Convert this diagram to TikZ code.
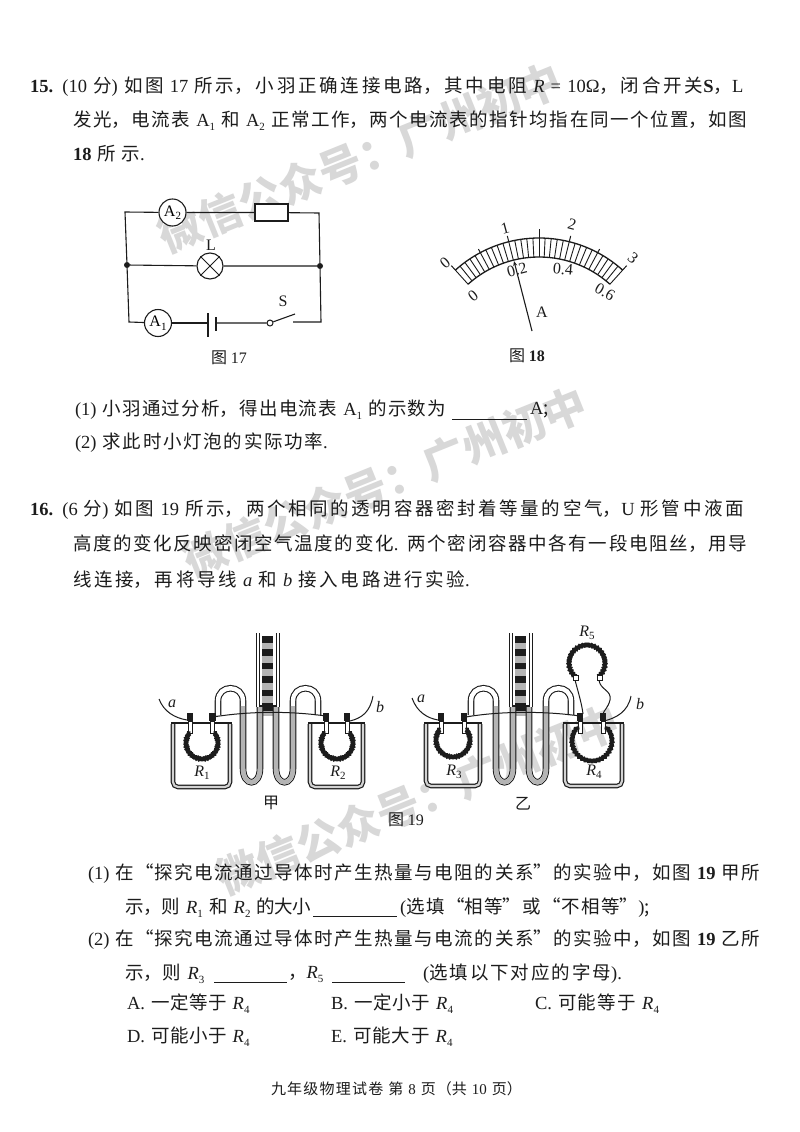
\documentclass[tikz,border=0pt]{standalone}
\usepackage{fontspec}
\usepackage{graphicx}
\usetikzlibrary{arrows.meta}
\setmainfont{Noto Sans CJK SC}
\newfontfamily\enf{Liberation Serif}
\newcommand\en[1]{{\enf #1}}
\newcommand\sbs[1]{\raisebox{-.4ex}{\fontsize{11}{11}\selectfont\enf #1}}
\newcommand\Ri[1]{{\enf\itshape R}\sbs{#1}}
\XeTeXlinebreaklocale "zh"
\XeTeXlinebreakskip=0pt plus 12pt minus 1pt
\tolerance=10000 \hbadness=10000 \hfuzz=50pt
\definecolor{ink}{HTML}{1c1c1c}
\definecolor{wm}{HTML}{d8d8d8}
\definecolor{liq}{HTML}{b4b4b4}
\tikzset{
  txt/.style={anchor=west,inner sep=0pt,outer sep=0pt,font=\fontsize{18.5}{22}\selectfont,text=ink},
  lab/.style={inner sep=0pt,outer sep=0pt,font=\fontsize{16}{18}\selectfont,text=ink},
  capt/.style={inner sep=0pt,outer sep=0pt,font=\fontsize{16}{18}\selectfont,text=ink},
  wmark/.style={inner sep=0pt,font=\fontsize{43}{48}\bfseries\selectfont,text=wm,rotate=22},
  wire/.style={draw=ink,line width=1.1pt},
  thinw/.style={draw=ink,line width=1pt},
  meter/.style={circle,draw=ink,line width=1.1pt,fill=white,minimum size=27pt,inner sep=0pt,font=\fontsize{16}{18}\selectfont},
  dotn/.style={circle,fill=ink,minimum size=6pt,inner sep=0pt},
  blank/.style={draw=ink,line width=.9pt},
  wall/.style={draw=ink,line width=1.2pt,double=liq!60,double distance=2.2pt,rounded corners=5pt},
  lid/.style={draw=ink,line width=2.8pt},
  tubeO/.style={draw=ink,line width=6.6pt},
  tubeI/.style={draw=white,line width=4.4pt},
  tubeL/.style={draw=liq,line width=4.4pt},
  term/.style={fill=ink},
  coil/.style={draw=ink,line width=3.2pt},
}
\newcommand\tline[5]{\node[txt,text width=#4pt] (#1) at (#2,#3) {\parfillskip=0pt #5\unskip\par};}
% container: left right top bottom
\newcommand\vessel[4]{%
  \draw[wall] (#1,#3+1) -- (#1,#4) -- (#2,#4) -- (#2,#3+1);
  \draw[lid] (#1-2,#3) -- (#2+2,#3);
}
% terminal + stem at x
\newcommand\postat[1]{%
  \draw[draw=ink,fill=white,line width=.6pt] (#1-1.8,721) rectangle (#1+1.8,733);
  \fill[term] (#1-3.2,713) rectangle (#1+3.2,721);
}
% ring: centre, radius, start, end
\newcommand\ring[5]{\draw[coil] plot[domain=#4:#5,samples=170] ({#1+(#3+1*sin(37*\x))*cos(\x)},{#2+(#3+1*sin(37*\x))*sin(\x)});}
% scale tube and U tubes, drawn for the first apparatus
\newcommand\utubes{%
  \draw[draw=ink,line width=1pt] (256,633) -- (256,707) (279,633) -- (279,707);
  \draw[draw=ink,line width=1pt] (259,633) -- (259,707) (276,633) -- (276,707);
  \foreach \k in {0,...,5}{
    \fill[ink] (262,636+13.4*\k) rectangle (273,642.5+13.4*\k);
    \fill[liq] (262,642.5+13.4*\k) rectangle (273,649.4+13.4*\k);
  }
  \fill[ink] (259,705) rectangle (276,711);
  \def\pl{(218,715) -- (218,701) .. controls (218,684) and (243,684) .. (243,701) -- (243,768) .. controls (243,787) and (260,787) .. (260,768) -- (260,707)}
  \def\pr{(276,707) -- (276,768) .. controls (276,787) and (293,787) .. (293,768) -- (293,701) .. controls (293,684) and (318,684) .. (318,701) -- (318,715)}
  \draw[tubeO] \pl; \draw[tubeO] \pr;
  \draw[tubeI] \pl; \draw[tubeI] \pr;
  \draw[tubeL] (243,706) -- (243,768) .. controls (243,787) and (260,787) .. (260,768) -- (260,707);
  \draw[tubeL] (276,707) -- (276,768) .. controls (276,787) and (293,787) .. (293,768) -- (293,706);
}
\begin{document}
\begin{tikzpicture}[x=1pt,y=-1pt]
\useasboundingbox (0,0) rectangle (800,1132);
\fill[white] (0,0) rectangle (800,1132);
% watermarks
\node[wmark] (wm1) at (360,158) {微信公众号：广州初中};
\node[wmark] (wm2) at (385,482) {微信公众号：广州初中};
\node[wmark] (wm3) at (418,800) {微信公众号：广州初中};
% text
\tline{t1}{30}{87}{722}{\en{\bfseries 15.} \en{(10} 分\en{)} 如图 \en{17} 所示，小羽正确连接电路，其中电阻 {\enf\itshape R}\en{ = 10Ω}，闭合开关\en{\bfseries S}，\en{L}}
\tline{t2}{73}{121}{679}{发光，电流表 \en{A}\sbs{1} 和 \en{A}\sbs{2} 正常工作，两个电流表的指针均指在同一个位置，如图}
\tline{t3}{73}{154}{89}{\en{\bfseries 18} 所示\en{.}}
\tline{q1}{75}{410}{375}{\en{(1)} 小羽通过分析，得出电流表 \en{A}\sbs{1} 的示数为}
\coordinate (u1a) at (452,419); \coordinate (u1b) at (527,419);
\draw[blank] (u1a) -- (u1b);
\node[txt] (q1b) at (530,410) {\en{A};};
\tline{q2}{75}{443}{258}{\en{(2)} 求此时小灯泡的实际功率\en{.}}
\tline{t4}{30}{510}{722}{\en{\bfseries 16.} \en{(6} 分\en{)} 如图 \en{19} 所示，两个相同的透明容器密封着等量的空气，\en{U} 形管中液面}
\tline{t5}{73}{544}{679}{高度的变化反映密闭空气温度的变化\en{.} 两个密闭容器中各有一段电阻丝，用导}
\tline{t6}{73}{580}{405}{线连接，再将导线 {\enf\itshape a} 和 {\enf\itshape b} 接入电路进行实验\en{.}}
\tline{r1}{88}{874}{677}{\en{(1)} 在“探究电流通过导体时产生热量与电阻的关系”的实验中，如图 \en{\bfseries 19} 甲所}
\tline{r2}{125}{908}{186}{示，则 \Ri{1} 和 \Ri{2} 的大小}
\coordinate (u2a) at (313,916); \coordinate (u2b) at (397,916);
\draw[blank] (u2a) -- (u2b);
\tline{r2b}{400}{908}{254}{\en{(}选填“相等”或“不相等”\en{)};}
\tline{r3}{88}{940}{677}{\en{(2)} 在“探究电流通过导体时产生热量与电流的关系”的实验中，如图 \en{\bfseries 19} 乙所}
\tline{r4}{125}{974}{82}{示，则 \Ri{3}}
\coordinate (u3a) at (214,982); \coordinate (u3b) at (287,982);
\draw[blank] (u3a) -- (u3b);
\node[txt] (r4b) at (288,974) {，\Ri{5}};
\coordinate (u4a) at (332,982); \coordinate (u4b) at (405,982);
\draw[blank] (u4a) -- (u4b);
\tline{r4c}{423}{974}{205}{\en{(}选填以下对应的字母\en{).}}
\tline{oa}{127}{1004}{124}{\en{A.} 一定等于 \Ri{4}}
\tline{ob}{331}{1004}{124}{\en{B.} 一定小于 \Ri{4}}
\tline{oc}{535}{1004}{128}{\en{C.} 可能等于 \Ri{4}}
\tline{od}{127}{1037}{124}{\en{D.} 可能小于 \Ri{4}}
\tline{oe}{331}{1037}{124}{\en{E.} 可能大于 \Ri{4}}
\node[txt,text width=254pt,font=\fontsize{15}{17}\selectfont] (foot) at (271,1089) {\parfillskip=0pt 九年级物理试卷 第 \en{8} 页（共 \en{10} 页）\unskip\par};
% Figure 17
\node[meter] (A2) at (172.5,212.5) {\en{A}\sbs{2}};
\node[draw=ink,line width=1.1pt,fill=white,minimum width=33pt,minimum height=17pt,inner sep=0pt] (RR) at (271.5,212.5) {};
\node[circle,draw=ink,line width=1.1pt,fill=white,minimum size=26pt,inner sep=0pt] (LL) at (210,266) {};
\draw[thinw] (LL.45) -- (LL.225) (LL.135) -- (LL.315);
\node[lab] (LLt) at (211,245) {\en{L}};
\node[meter] (A1) at (158,323) {\en{A}\sbs{1}};
\node[dotn] (J1) at (127,265) {};
\node[dotn] (J2) at (320,266) {};
\coordinate (c1) at (125,212); \coordinate (c2) at (319,213);
\coordinate (c3) at (129,322); \coordinate (c4) at (321,322);
\node[inner sep=0pt,minimum size=0pt] (B1) at (208,323) {};
\node[inner sep=0pt,minimum size=0pt] (B2) at (216,323) {};
\node[circle,draw=ink,line width=1pt,fill=white,minimum size=6pt,inner sep=0pt] (SW) at (270,323) {};
\coordinate (sw2) at (295,314); \coordinate (sw3) at (293,322);
\draw[wire] (A2) -- (c1) -- (J1) -- (c3) -- (A1);
\draw[wire] (A2) -- (RR) -- (c2) -- (J2) -- (c4) -- (sw3);
\draw[wire] (J1) -- (LL) -- (J2);
\draw[wire] (A1) -- (B1);
\draw[wire] (B2) -- (SW) -- (sw2);
\draw[wire] (208,313) -- (208,337);
\draw[wire] (216,317) -- (216,331);
\node[lab] (St) at (283,301) {\en{S}};
\node[capt] (c17) at (229,358) {图 \en{17}};
% Figure 18
\def\mx{539}\def\my{363}
\draw[wire,line width=1.3pt] plot[domain=-42:42,samples=40,smooth] ({\mx+125*sin(\x)},{\my-125*cos(\x)});
\draw[wire,line width=1.3pt] plot[domain=-42:42,samples=40,smooth] ({\mx+106*sin(\x)},{\my-106*cos(\x)});
\foreach \i in {0,...,30}{
  \pgfmathsetmacro\ang{-42+2.8*\i}
  \draw[thinw,line width=.9pt] ({\mx+106*sin(\ang)},{\my-106*cos(\ang)}) -- ({\mx+125*sin(\ang)},{\my-125*cos(\ang)});
}
\foreach \ang/\rr in {-42/131,-14/131,14/131,42/131,-28/129,0/134,28/129}{
  \draw[thinw] ({\mx+125*sin(\ang)},{\my-125*cos(\ang)}) -- ({\mx+\rr*sin(\ang)},{\my-\rr*cos(\ang)});
}
\node[lab,rotate=40] (m0) at (445,263) {\en{0}};
\node[lab,rotate=15] (m1) at (505,228) {\en{1}};
\node[lab,rotate=-15] (m2) at (572,224) {\en{2}};
\node[lab,rotate=-40] (m3) at (633,258) {\en{3}};
\node[lab,rotate=38] (n0) at (473,296) {\en{0}};
\node[lab,rotate=15] (n1) at (517,270) {\en{0.2}};
\node[lab,rotate=-5] (n2) at (563,269) {\en{0.4}};
\node[lab,rotate=-30] (n3) at (605,292) {\en{0.6}};
\coordinate (pa) at (532,331); \coordinate (pb) at (514,261);
\draw[wire,-{Stealth[length=5pt,width=4pt]}] (pa) -- (pb);
\node[lab] (At) at (542,312) {\en{A}};
\node[capt] (c18) at (527,356) {图 \en{\bfseries 18}};
% Figure 19 left
\utubes
\vessel{173}{230}{723}{787}
\vessel{310}{363}{723}{787}
\draw[thinw] (213,717) .. controls (250,711) and (290,711) .. (326,716);
\postat{190}\postat{212.5}\postat{326}\postat{347}
\ring{202}{743}{16}{-40}{220}
\ring{337}{743}{16}{-40}{220}
\draw[thinw] (159,699) .. controls (164,712) and (175,718) .. (187,720);
\draw[thinw] (373,696) .. controls (370,712) and (362,718) .. (350,721);
\node[lab] (a1) at (172,704) {\en{\itshape a}};
\node[lab] (b1) at (380,707) {\en{\itshape b}};
\node[lab] (R1) at (202,773) {\Ri{1}};
\node[lab] (R2) at (338,773) {\Ri{2}};
\node[lab] (jia) at (271,803) {甲};
% Figure 19 right
\begin{scope}[shift={(253,0)}]
\utubes
\end{scope}
\vessel{426}{480}{723}{786}
\vessel{565}{622}{723}{786}
\draw[thinw] (466,717) .. controls (500,711) and (545,711) .. (580,716);
\postat{441}\postat{464}\postat{580}\postat{603}
\ring{453}{740}{17}{-40}{220}
\ring{592}{741}{20}{-45}{225}
\ring{587}{663}{18}{130}{410}
\draw[thinw] (575,680) .. controls (579,695) and (582,705) .. (583,714);
\draw[thinw] (599,680) .. controls (600,690) and (612,690) .. (610,700) .. controls (608,708) and (604,710) .. (603,714);
\draw[draw=ink,fill=white,line width=.6pt] (573,675) rectangle (578,680);
\draw[draw=ink,fill=white,line width=.6pt] (597,675) rectangle (602,680);
\draw[thinw] (412,698) .. controls (417,712) and (427,718) .. (438,720);
\draw[thinw] (631,696) .. controls (628,712) and (616,718) .. (604,721);
\node[lab] (a2) at (421,699) {\en{\itshape a}};
\node[lab] (b2) at (640,704) {\en{\itshape b}};
\node[lab] (R3) at (454,772) {\Ri{3}};
\node[lab] (R4) at (594,772) {\Ri{4}};
\node[lab] (R5) at (587,633) {\Ri{5}};
\node[lab] (yi) at (523,804) {乙};
\node[capt] (c19) at (406,820) {图 \en{19}};
\end{tikzpicture}
\end{document}
